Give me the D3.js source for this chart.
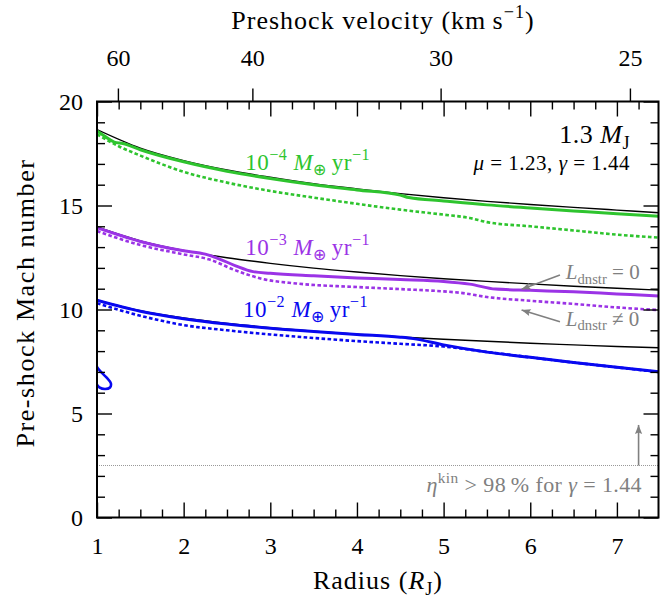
<!DOCTYPE html>
<html>
<head>
<meta charset="utf-8">
<script src="https://cdn.jsdelivr.net/npm/d3@7"></script>
<style>
  html, body { margin: 0; padding: 0; background: #fff; }
</style>
</head>
<body>
<svg id="chart" width="660" height="602"></svg>
<script>
// Pre-shock Mach number versus shock radius, 1.3 M_J planet

const FONT = '"Liberation Serif", "Times New Roman", serif';

// Colours per accretion rate
const rateColors = { "1e-4": "#2ec42e", "1e-3": "#9b33e6", "1e-2": "#0808f0" };

// Reference curves (black) for each accretion rate
const refRadius = [1, 1.5, 2, 2.5, 3, 3.5, 4, 4.5, 5, 5.5, 6, 6.5, 7, 7.5];
const refMach4 = [18.65, 17.76, 17.16, 16.71, 16.36, 16.05, 15.80, 15.57, 15.37, 15.20, 15.05, 14.91, 14.78, 14.65];
const refMach3 = [13.97, 13.30, 12.84, 12.49, 12.22, 11.99, 11.80, 11.63, 11.48, 11.35, 11.23, 11.12, 11.02, 10.93];
const refMach2 = [10.45, 9.94, 9.59, 9.33, 9.13, 8.96, 8.81, 8.68, 8.57, 8.47, 8.38, 8.30, 8.22, 8.16];

// 1e-4 M_earth/yr, L_dnstr = 0 (solid) and L_dnstr != 0 (dotted)
const solid4Radius = [1, 1.1, 1.2, 1.3, 1.5, 2, 2.5, 3, 3.5, 4, 4.5, 4.6, 5, 5.5, 6, 6.5, 7, 7.5];
const solid4Mach = [18.58, 18.30, 18.05, 17.98, 17.68, 17.10, 16.65, 16.30, 16.00, 15.75, 15.50, 15.38, 15.22, 15.03, 14.88, 14.74, 14.60, 14.48];
const dotted4Radius = [1, 1.25, 1.5, 2, 2.5, 3, 3.5, 4, 4.5, 5, 5.3, 5.5, 6, 6.5, 7, 7.5];
const dotted4Mach = [18.42, 17.85, 17.40, 16.62, 16.10, 15.70, 15.38, 15.08, 14.80, 14.56, 14.40, 14.20, 14.00, 13.80, 13.60, 13.45];

// 1e-3 M_earth/yr
const solid3Radius = [1, 1.5, 2, 2.25, 2.4, 2.6, 2.8, 3, 3.5, 4, 4.5, 5, 5.3, 5.6, 6, 6.5, 7, 7.5];
const solid3Mach = [13.93, 13.27, 12.82, 12.66, 12.45, 12.10, 11.82, 11.74, 11.62, 11.52, 11.44, 11.35, 11.22, 10.98, 10.92, 10.85, 10.75, 10.65];
const dotted3Radius = [1, 1.5, 2, 2.3, 2.6, 2.9, 3.3, 4, 4.5, 5, 5.2, 5.5, 6, 6.5, 7, 7.5];
const dotted3Mach = [13.77, 13.10, 12.65, 12.40, 11.88, 11.48, 11.25, 11.08, 10.98, 10.87, 10.80, 10.60, 10.42, 10.27, 10.10, 9.97];

// 1e-2 M_earth/yr
const solid2Radius = [1, 1.5, 2, 2.5, 3, 3.5, 4, 4.5, 4.65, 5, 5.5, 6, 6.5, 7, 7.5];
const solid2Mach = [10.45, 9.92, 9.56, 9.30, 9.10, 8.94, 8.80, 8.67, 8.60, 8.30, 7.95, 7.70, 7.45, 7.22, 7.00];
const dotted2Radius = [1, 1.5, 2, 2.5, 3, 3.5, 4, 4.5, 5, 5.5, 6, 6.5, 7, 7.5];
const dotted2Mach = [10.30, 9.70, 9.25, 9.00, 8.80, 8.63, 8.48, 8.35, 8.22, 7.96, 7.70, 7.45, 7.22, 6.98];
// small excursion of the 1e-2 solution near the planet surface
const loop2Radius = [0.99, 1.0, 1.054, 1.112, 1.16, 1.15, 1.092, 1.027, 1.003];
const loop2Mach = [7.35, 7.24, 6.96, 6.72, 6.45, 6.25, 6.18, 6.26, 6.38];

// Axis ticks
const radiusMajorTicks = [1, 2, 3, 4, 5, 6, 7];
const machMajorTicks = [0, 5, 10, 15, 20];
const velocityTicks = [60, 40, 30, 25];
// free-fall velocity at 1 R_J (km/s); v scales as r^(-1/2)
const velocityAtOneRJ = 66.85;
// efficiency threshold
const etaThresholdMach = 2.5;

// ---------------------------------------------------------------
const svg = d3.select("#chart");
const X0 = 97, X1 = 658.5, Y0 = 517.5, Y1 = 101.5;
const x = d3.scaleLinear().domain([1, 7.48]).range([X0, X1]);
const y = d3.scaleLinear().domain([0, 20]).range([Y0, Y1]);
// velocity axis: r = (v1/v)^2, linear in v^-2
const vScale = d3.scalePow().exponent(-2)
  .domain([velocityAtOneRJ, velocityAtOneRJ / Math.sqrt(7.48)])
  .range([X0, X1]);

const defs = svg.append("defs");
defs.append("clipPath").attr("id", "plotclip")
  .append("rect").attr("x", X0).attr("y", Y1).attr("width", X1 - X0).attr("height", Y0 - Y1);
defs.append("marker")
  .attr("id", "arrowhead").attr("viewBox", "-10 -6 12 12")
  .attr("refX", 0).attr("refY", 0).attr("markerWidth", 12).attr("markerHeight", 12)
  .attr("markerUnits", "userSpaceOnUse").attr("orient", "auto")
  .append("path").attr("d", "M-9,-3.6 L0,0 L-9,3.6 L-7.5,0 Z").attr("fill", "#808080");

const plot = svg.append("g").attr("clip-path", "url(#plotclip)");
const line = d3.line().x(d => x(d[0])).y(d => y(d[1])).curve(d3.curveMonotoneX);
const zip = (a, b) => a.map((v, i) => [v, b[i]]);

// dotted: L_dnstr != 0
[[dotted4Radius, dotted4Mach, rateColors["1e-4"]],
 [dotted3Radius, dotted3Mach, rateColors["1e-3"]],
 [dotted2Radius, dotted2Mach, rateColors["1e-2"]]].forEach(([r, m, c]) => {
  plot.append("path").attr("d", line(zip(r, m))).attr("fill", "none")
    .attr("stroke", c).attr("stroke-width", 2.6).attr("stroke-dasharray", "3.6,2.4");
});

// black reference curves
[refMach4, refMach3, refMach2].forEach(m => {
  plot.append("path").attr("d", line(zip(refRadius, m))).attr("fill", "none")
    .attr("stroke", "#000").attr("stroke-width", 1.4);
});

// solid: L_dnstr = 0
[[solid4Radius, solid4Mach, rateColors["1e-4"]],
 [solid3Radius, solid3Mach, rateColors["1e-3"]],
 [solid2Radius, solid2Mach, rateColors["1e-2"]]].forEach(([r, m, c]) => {
  plot.append("path").attr("d", line(zip(r, m))).attr("fill", "none")
    .attr("stroke", c).attr("stroke-width", 3);
});
plot.append("path")
  .attr("d", d3.line().x(d => x(d[0])).y(d => y(d[1])).curve(d3.curveCatmullRom)(zip(loop2Radius, loop2Mach)))
  .attr("fill", "none").attr("stroke", rateColors["1e-2"]).attr("stroke-width", 2.6);

// threshold line
plot.append("line").attr("x1", X0).attr("x2", X1)
  .attr("y1", y(etaThresholdMach)).attr("y2", y(etaThresholdMach))
  .attr("stroke", "#999").attr("stroke-width", 1).attr("stroke-dasharray", "1,1");

// ---------------------------------------------------------------
// axes
function styleAxis(g) {
  g.select(".domain").remove();
  g.selectAll(".tick line").attr("stroke", "#000").attr("stroke-width", 1.4);
  g.selectAll(".tick text").style("font-size", "24px").style("font-family", FONT).style("fill", "#000");
}
const minorRadius = d3.range(1, 7.49, 0.25).filter(v => Math.abs(v - Math.round(v)) > 1e-6);
const minorMach = d3.range(0, 20.01, 1).filter(v => v % 5 !== 0);

svg.append("g").attr("transform", `translate(0,${Y0})`)
  .call(d3.axisBottom(x).tickValues(radiusMajorTicks).tickFormat(d3.format("d")).tickSize(-15).tickPadding(19))
  .call(styleAxis);
svg.append("g").attr("transform", `translate(0,${Y0})`)
  .call(d3.axisBottom(x).tickValues(minorRadius).tickFormat("").tickSize(-8)).call(styleAxis);
svg.append("g").attr("transform", `translate(0,${Y1})`)
  .call(d3.axisTop(x).tickValues(radiusMajorTicks).tickFormat("").tickSize(-15)).call(styleAxis);
svg.append("g").attr("transform", `translate(0,${Y1})`)
  .call(d3.axisTop(x).tickValues(minorRadius).tickFormat("").tickSize(-8)).call(styleAxis);

svg.append("g").attr("transform", `translate(${X0},0)`)
  .call(d3.axisLeft(y).tickValues(machMajorTicks).tickFormat(d3.format("d")).tickSize(-15).tickPadding(14))
  .call(styleAxis);
svg.append("g").attr("transform", `translate(${X0},0)`)
  .call(d3.axisLeft(y).tickValues(minorMach).tickFormat("").tickSize(-8)).call(styleAxis);
svg.append("g").attr("transform", `translate(${X1},0)`)
  .call(d3.axisRight(y).tickValues(machMajorTicks).tickFormat("").tickSize(-15)).call(styleAxis);
svg.append("g").attr("transform", `translate(${X1},0)`)
  .call(d3.axisRight(y).tickValues(minorMach).tickFormat("").tickSize(-8)).call(styleAxis);

// top velocity axis
svg.append("g").attr("transform", `translate(0,${Y1})`)
  .call(d3.axisTop(vScale).tickValues(velocityTicks).tickFormat(d3.format("d")).tickSize(13).tickPadding(23))
  .call(styleAxis);

// frame
svg.append("rect").attr("x", X0).attr("y", Y1).attr("width", X1 - X0).attr("height", Y0 - Y1)
  .attr("fill", "none").attr("stroke", "#000").attr("stroke-width", 2);

// ---------------------------------------------------------------
// text with super/subscripts
function rich(parent, px, py, parts, opt) {
  const size = opt.size, small = size * 0.7;
  const t = parent.append("text").attr("x", px).attr("y", py)
    .attr("text-anchor", opt.anchor || "start")
    .style("font-family", FONT)
    .style("font-size", size + "px").style("fill", opt.color || "#000");
  if (opt.spacing) t.style("letter-spacing", opt.spacing + "px");
  if (opt.rotate) t.attr("transform", `rotate(${opt.rotate},${px},${py})`);
  let shift = 0;
  parts.forEach(p => {
    const target = p.sup ? -size * 0.42 : p.sub ? size * 0.22 : 0;
    const ts = t.append("tspan").text(p.t).attr("dy", target - shift)
      .style("font-size", (p.sup || p.sub ? small : size) + "px");
    if (p.it) ts.style("font-style", "italic");
    shift = target;
  });
  return t;
}

rich(svg, 383, 29, [{ t: "Preshock velocity (km\u2009s" }, { t: "\u22121", sup: true }, { t: ")" }],
  { size: 26, anchor: "middle", spacing: 1 });
rich(svg, 378, 589, [{ t: "Radius (" }, { t: "R", it: true }, { t: "J", sub: true }, { t: ")" }],
  { size: 26, anchor: "middle", spacing: 1 });
rich(svg, 34, 303, [{ t: "Pre-shock Mach number" }],
  { size: 26, anchor: "middle", spacing: 1.6, rotate: -90 });

rich(svg, 630, 143, [{ t: "1.3 " }, { t: "M", it: true }, { t: "J", sub: true }], { size: 26, anchor: "end", spacing: 0.5 });
rich(svg, 630, 170, [{ t: "\u03bc", it: true }, { t: " = 1.23, " }, { t: "\u03b3", it: true }, { t: " = 1.44" }],
  { size: 21, anchor: "end", spacing: 0.5 });

function rateLabel(r, m, exp, color) {
  rich(svg, x(r), y(m), [{ t: "10" }, { t: "\u2212" + exp, sup: true }, { t: " " }, { t: "M", it: true },
    { t: "\u2295", sub: true }, { t: "\u2009yr" }, { t: "\u22121", sup: true }],
    { size: 23, color: color, spacing: 0.5 });
}
rateLabel(2.71, 16.7, "4", rateColors["1e-4"]);
rateLabel(2.71, 12.62, "3", rateColors["1e-3"]);
rateLabel(2.685, 9.64, "2", rateColors["1e-2"]);

const grey = "#808080";
rich(svg, x(6.41), y(11.45), [{ t: "L", it: true }, { t: "dnstr", sub: true }, { t: " = 0" }], { size: 21, color: grey });
rich(svg, x(6.41), y(9.22), [{ t: "L", it: true }, { t: "dnstr", sub: true }, { t: " \u2260 0" }], { size: 21, color: grey });
rich(svg, x(7.29), y(1.23), [{ t: "\u03b7", it: true }, { t: "kin", sup: true }, { t: " > 98\u2009% for " },
  { t: "\u03b3", it: true }, { t: " = 1.44" }], { size: 22, color: grey, anchor: "end", spacing: 0.4 });

// annotation arrows: [from r, from M, to r, to M]
const arrows = [[6.343, 11.66, 5.90, 10.97], [6.343, 9.41, 5.90, 9.98], [7.25, etaThresholdMach, 7.25, 4.45]];
arrows.forEach(a => {
  svg.append("line").attr("x1", x(a[0])).attr("y1", y(a[1])).attr("x2", x(a[2])).attr("y2", y(a[3]))
    .attr("stroke", grey).attr("stroke-width", 1.6).attr("marker-end", "url(#arrowhead)");
});
</script>
</body>
</html>
